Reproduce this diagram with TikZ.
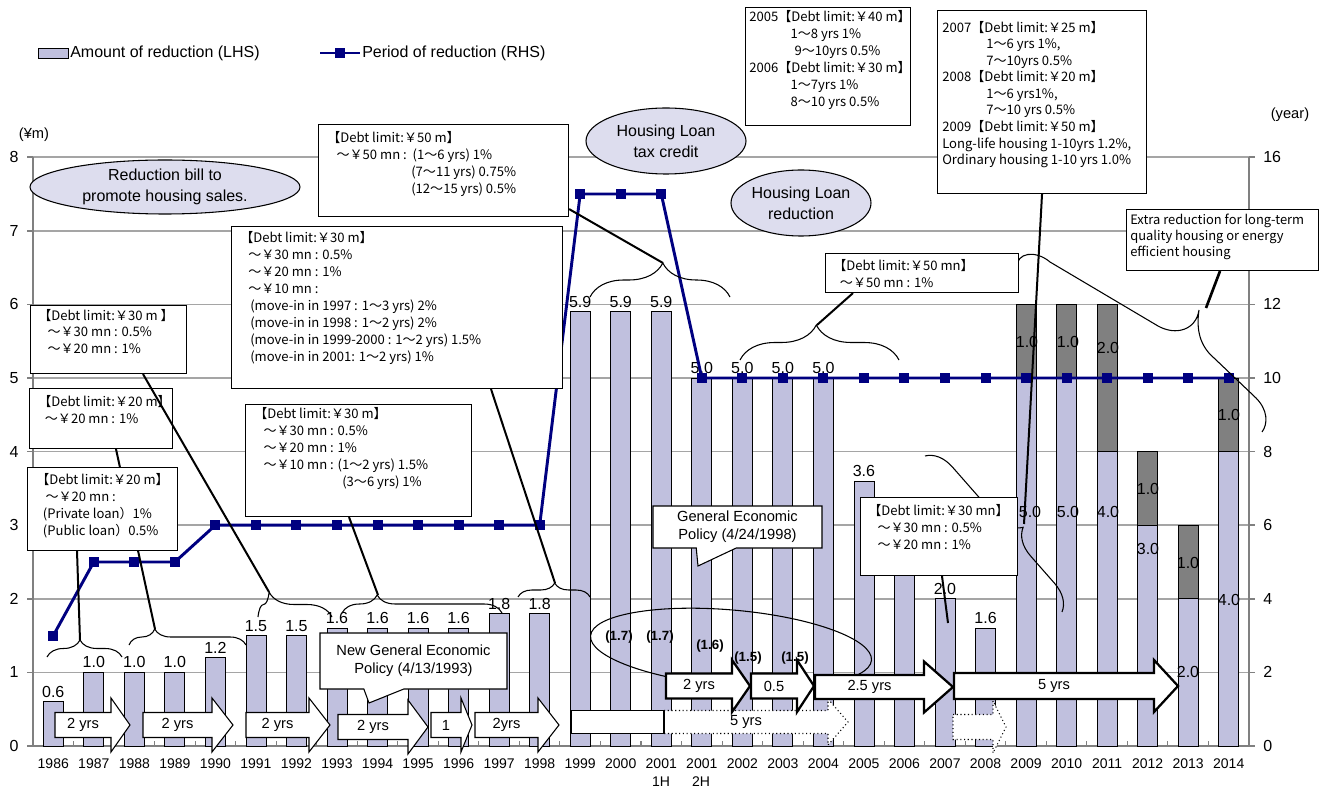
\documentclass[tikz,border=0pt]{standalone}
\usepackage{fontspec}
\setmainfont{Liberation Sans}
\newfontfamily\jpfont{Noto Sans CJK JP}
\usetikzlibrary{shapes.geometric,shapes.callouts,decorations.pathreplacing,calc}

\definecolor{lavbar}{RGB}{192,192,222}
\definecolor{slatebar}{RGB}{128,128,128}
\definecolor{navyline}{RGB}{0,0,128}
\definecolor{bubblefill}{RGB}{221,221,238}
\definecolor{gridgray}{RGB}{165,165,165}
\definecolor{axisgray}{RGB}{128,128,128}

% block arrow: name, style, tail x, head x, tip x, mid y, half shaft, half head, text
\newcommand{\blockarrow}[9]{%
  \draw[#2] (#3,#6-#7) -- (#4,#6-#7) -- (#4,#6-#8) -- (#5,#6) -- (#4,#6+#8)
    -- (#4,#6+#7) -- (#3,#6+#7) -- cycle;
  \node[arrowlabel] (#1) at ({(#3+#4)/2},#6) {#9};
}

\begin{document}
\begin{tikzpicture}[x=0.75pt, y=-0.75pt,
  gridline/.style={draw=gridgray, line width=1.1pt},
  axisline/.style={draw=axisgray, line width=1.1pt},
  lightbar/.style={fill=lavbar, draw=black, line width=0.6pt},
  darkbar/.style={fill=slatebar, draw=black, line width=0.6pt},
  valuelabel/.style={font=\fontsize{12}{14}\selectfont, inner sep=0pt},
  yearlabel/.style={font=\fontsize{10.5}{12}\selectfont, inner sep=0pt},
  ticklabel/.style={font=\fontsize{12}{14}\selectfont, inner sep=0pt},
  periodline/.style={draw=navyline, line width=2.2pt},
  sqmark/.style={rectangle, fill=navyline, inner sep=0pt, minimum size=7.5pt},
  infobox/.style={rectangle, draw=black, fill=white, line width=0.8pt, inner sep=0pt, anchor=north west},
  infotext/.style={font=\jpfont\fontsize{9.8}{12.75}\selectfont, align=left, inner sep=0pt, anchor=north west},
  bubble/.style={ellipse, draw=black, fill=bubblefill, line width=0.8pt, inner sep=0pt,
                 align=center, font=\fontsize{12}{15.5}\selectfont},
  policynote/.style={rectangle callout, draw=black, fill=white, line width=0.8pt, align=center,
                     callout pointer width=30pt, font=\fontsize{11}{13.5}\selectfont},
  bracepath/.style={line width=0.8pt},
  leader/.style={line width=1.5pt},
  solidarrow/.style={draw=black, fill=white, line width=0.8pt},
  thickarrow/.style={draw=black, fill=white, line width=1.7pt},
  dottedarrow/.style={draw=black, fill=white, line width=0.8pt, dotted},
  arrowlabel/.style={font=\fontsize{11}{13}\selectfont, inner sep=0pt},
  estimate/.style={font=\bfseries\fontsize{10}{12}\selectfont, inner sep=0pt}
]
\useasboundingbox (0,0) rectangle (1321,791);

% grid and axes
\foreach \k in {1,...,8}
  \draw[gridline] (33,{746-73.6*\k}) -- (1249,{746-73.6*\k});
\foreach \k in {0,...,8} {
  \draw[axisline] (27,{746-73.6*\k}) -- (33,{746-73.6*\k});
  \draw[axisline] (1249,{746-73.6*\k}) -- (1255,{746-73.6*\k});
}
\draw[axisline] (33,157) -- (33,746);
\draw[axisline] (1249,157) -- (1249,746);
\draw[axisline] (33,746) -- (1249,746);
\foreach \i in {0,...,30}
  \draw[axisline, line width=0.8pt] ({33+40.533*\i},746) -- ({33+40.533*\i},741);

% bars
\foreach \i/\v in {0/0.6,1/1.0,2/1.0,3/1.0,4/1.2,5/1.5,6/1.5,7/1.6,8/1.6,9/1.6,10/1.6,
                   11/1.8,12/1.8,13/5.9,14/5.9,15/5.9,16/5.0,17/5.0,18/5.0,19/5.0,
                   20/3.6,21/2.6,22/2.0,23/1.6} {
  \pgfmathsetmacro{\cx}{33+40.533*(\i+0.5)}
  \draw[lightbar] (\cx-10,746) rectangle (\cx+10,{746-73.6*\v});
}
\foreach \i/\lo/\hi in {24/5/6,25/5/6,26/4/6,27/3/4,28/2/3,29/4/5} {
  \pgfmathsetmacro{\cx}{33+40.533*(\i+0.5)}
  \draw[lightbar] (\cx-10,746) rectangle (\cx+10,{746-73.6*\lo});
  \draw[darkbar] (\cx-10,{746-73.6*\lo}) rectangle (\cx+10,{746-73.6*\hi});
}

% value labels
\foreach \i/\v in {0/0.6,1/1.0,2/1.0,3/1.0,4/1.2,5/1.5,6/1.5,7/1.6,8/1.6,9/1.6,10/1.6,
                   11/1.8,12/1.8,13/5.9,14/5.9,15/5.9,16/5.0,17/5.0,18/5.0,19/5.0,
                   20/3.6,22/2.0,23/1.6} {
  \pgfmathsetmacro{\cx}{33+40.533*(\i+0.5)}
  \node[valuelabel] (val\i) at (\cx,{746-73.6*\v-10}) {\v};
}
\node[valuelabel] (lo24) at (1030,512) {5.0};
\node[valuelabel] (hi24) at (1027,342) {1.0};
\node[valuelabel] (lo25) at (1068,512) {5.0};
\node[valuelabel] (hi25) at (1068,342) {1.0};
\node[valuelabel] (lo26) at (1108,512) {4.0};
\node[valuelabel] (hi26) at (1108,348) {2.0};
\node[valuelabel] (lo27) at (1148,549) {3.0};
\node[valuelabel] (hi27) at (1148,489) {1.0};
\node[valuelabel] (lo28) at (1188,672) {2.0};
\node[valuelabel] (hi28) at (1188,563) {1.0};
\node[valuelabel] (lo29) at (1229,600) {4.0};
\node[valuelabel] (hi29) at (1229,415) {1.0};

% period of reduction
\foreach \i/\r in {0/3,1/5,2/5,3/5,4/6,5/6,6/6,7/6,8/6,9/6,10/6,11/6,12/6,13/15,14/15,15/15,
                   16/10,17/10,18/10,19/10,20/10,21/10,22/10,23/10,24/10,25/10,26/10,27/10,28/10,29/10}
  \coordinate (p\i) at ({33+40.533*(\i+0.5)},{746-36.8*\r});
\draw[periodline] (p0) \foreach \i in {1,...,29} {-- (p\i)};
\foreach \i in {0,...,29}
  \node[sqmark] (m\i) at (p\i) {};

% estimated amounts
\node[draw=black, line width=0.8pt, ellipse, minimum width=211.5pt, minimum height=57pt,
      rotate=-5] (oval) at (731,648) {};
\node[estimate] (est1) at (619,637) {(1.7)};
\node[estimate] (est2) at (660,637) {(1.7)};
\node[estimate] (est3) at (710,646) {(1.6)};
\node[estimate] (est4) at (748,658) {(1.5)};
\node[estimate] (est5) at (795,658) {(1.5)};

% block arrows
\blockarrow{ar1}{solidarrow}{55}{111}{130}{725}{12.5}{27}{2 yrs}
\blockarrow{ar2}{solidarrow}{143}{212}{233}{725}{12.5}{27}{2 yrs}
\blockarrow{ar3}{solidarrow}{246}{309}{330}{725}{12.5}{27}{2 yrs}
\blockarrow{ar4}{solidarrow}{338}{408}{428}{727}{12.5}{27}{2 yrs}
\blockarrow{ar5}{solidarrow}{431}{461}{472}{725}{12.5}{27}{1}
\blockarrow{ar6}{solidarrow}{475}{538}{559}{725}{12.5}{27}{2yrs}
\blockarrow{ar7}{dottedarrow}{664}{828}{848}{722}{11.5}{23}{5 yrs}
\draw[solidarrow] (571,710.5) rectangle (664,733.5);
\blockarrow{ar8}{dottedarrow}{953}{993}{1006}{727}{12.5}{26}{}
\blockarrow{ar9}{thickarrow}{666}{732}{750}{686}{12.5}{26}{2 yrs}
\blockarrow{ar10}{thickarrow}{751}{797}{814}{686}{12.5}{26}{0.5}
\blockarrow{ar11}{thickarrow}{815}{924}{953}{687}{12}{25.5}{2.5 yrs}
\blockarrow{ar12}{thickarrow}{954}{1154}{1178}{686}{13}{26}{5 yrs}

% braces
\draw[bracepath, decorate, decoration={brace, amplitude=12.75pt, aspect=0.44}] (47,657) -- (122,657);
\draw[bracepath, decorate, decoration={brace, amplitude=12pt, aspect=0.22}] (129,645) -- (246,645);
\draw[bracepath, decorate, decoration={brace, amplitude=18.75pt, aspect=0.15}] (258,617) -- (332,617);
\draw[bracepath, decorate, decoration={brace, amplitude=13.5pt, aspect=0.22}] (342,613) -- (502,613);
\draw[bracepath, decorate, decoration={brace, amplitude=10.5pt, aspect=0.51}] (518,597) -- (590,597);
\draw[bracepath, decorate, decoration={brace, amplitude=25.5pt, aspect=0.52}] (590,297) -- (730,297);
\draw[bracepath, decorate, decoration={brace, amplitude=26.25pt, aspect=0.48}] (740,360) -- (899,360);
\draw[bracepath, decorate, decoration={brace, amplitude=20pt, aspect=0.57}] (925,456) -- (1062,612);
\draw[bracepath] (1017,268) .. controls (1016,252) and (1036,250) .. (1050,262) -- (1158,326)
  .. controls (1176,336) and (1196,330) .. (1199,310)
  .. controls (1196,330) and (1200,346) .. (1214,358) -- (1256,398)
  .. controls (1268,410) and (1268,424) .. (1262,432);

\coordinate (tip1) at (80,640);
\coordinate (tip2) at (155,629);
\coordinate (tip3) at (269,592);
\coordinate (tip4) at (378,595);
\coordinate (tip5) at (555,583);
\coordinate (tip6) at (663,263);
\coordinate (tip7) at (817,325);
\coordinate (tip8) at (1206,308);
\coordinate (tip9) at (1024,524);
\coordinate (p2007) at (948,623);

% boxes
\node[infobox, minimum width=123.75pt, minimum height=88.5pt] (BoxA) at (745,7) {};
\node[infotext] (BoxAtext) at (749,10) {2005【Debt limit:￥40 m】\\
  \hspace*{31pt}1～8 yrs 1\%\\
  \hspace*{34pt}9～10yrs 0.5\%\\
  2006【Debt limit:￥30 m】\\
  \hspace*{31pt}1～7yrs 1\%\\
  \hspace*{31pt}8～10 yrs 0.5\%};

\node[infobox, minimum width=156.75pt, minimum height=137.25pt] (BoxB) at (937,10) {};
\node[infotext, font=\jpfont\fontsize{9.8}{12.4}\selectfont] (BoxBtext) at (942,21) {2007【Debt limit:￥25 m】\\
  \hspace*{33pt}1～6 yrs 1\%,\\
  \hspace*{33pt}7～10yrs 0.5\%\\
  2008【Debt limit:￥20 m】\\
  \hspace*{33pt}1～6 yrs1\%,\\
  \hspace*{33pt}7～10 yrs 0.5\%\\
  2009【Debt limit:￥50 m】\\
  Long-life housing 1-10yrs 1.2\%,\\
  Ordinary housing 1-10 yrs 1.0\%};

\node[infobox, minimum width=187.5pt, minimum height=69pt] (B1) at (318,124) {};
\node[infotext] (B1text) at (327,131) {【Debt limit:￥50 m】\\
  \hspace*{7pt}～￥50 mn :\ \ (1～6 yrs) 1\%\\
  \hspace*{63pt}(7～11 yrs) 0.75\%\\
  \hspace*{63pt}(12～15 yrs) 0.5\%};

\node[infobox, minimum width=248.25pt, minimum height=121.5pt] (B2) at (231,226) {};
\node[infotext] (B2text) at (240,231) {【Debt limit:￥30 m】\\
  \hspace*{6pt}～￥30 mn : 0.5\%\\
  \hspace*{6pt}～￥20 mn : 1\%\\
  \hspace*{6pt}～￥10 mn :\\
  \hspace*{7.5pt}(move-in in 1997 : 1～3 yrs) 2\%\\
  \hspace*{7.5pt}(move-in in 1998 : 1～2 yrs) 2\%\\
  \hspace*{7.5pt}(move-in in 1999-2000 : 1～2 yrs) 1.5\%\\
  \hspace*{7.5pt}(move-in in 2001: 1～2 yrs) 1\%};

\node[infobox, minimum width=117pt, minimum height=51pt] (B3) at (30,305) {};
\node[infotext, font=\jpfont\fontsize{9.8}{12.4}\selectfont] (B3text) at (38,309) {【Debt limit:￥30 m 】\\
  \hspace*{7pt}～￥30 mn : 0.5\%\\
  \hspace*{7pt}～￥20 mn : 1\%};

\node[infobox, minimum width=107.25pt, minimum height=45pt] (B4) at (29,388) {};
\node[infotext] (B4text) at (38,395) {【Debt limit:￥20 m】\\
  \hspace*{5pt}～￥20 mn : 1\%};

\node[infobox, minimum width=169.5pt, minimum height=84pt] (B6) at (245,404) {};
\node[infotext] (B6text) at (254,407) {【Debt limit:￥30 m】\\
  \hspace*{7pt}～￥30 mn : 0.5\%\\
  \hspace*{7pt}～￥20 mn : 1\%\\
  \hspace*{7pt}～￥10 mn : (1～2 yrs) 1.5\%\\
  \hspace*{66pt}(3～6 yrs) 1\%};

\node[infobox, minimum width=144.75pt, minimum height=29.25pt] (B7) at (825,253) {};
\node[infotext] (B7text) at (833,259) {【Debt limit:￥50 mn】\\
  \hspace*{5pt}～￥50 mn : 1\%};

\node[infobox, minimum width=117.75pt, minimum height=58.5pt] (B8) at (860,497) {};
\node[infotext] (B8text) at (868,504) {【Debt limit:￥30 mn】\\
  \hspace*{7pt}～￥30 mn : 0.5\%\\
  \hspace*{7pt}～￥20 mn : 1\%};

\node[infobox, minimum width=144pt, minimum height=45.75pt] (B9) at (1126,209) {};
\node[infotext, font=\jpfont\fontsize{9.7}{12}\selectfont] (B9text) at (1130,214) {Extra reduction for long-term\\
  quality housing or energy\\
  efficient housing};

% leaders from the boxes
\draw[leader] ($(B4.south west)+(87,0)$) -- (tip2);
\draw[leader] ($(B6.south west)+(104,0)$) -- (tip4);
\draw[leader] ($(B2.south west)+(260,0)$) -- (tip5);
\draw[leader] ($(B1.south east)+(0,-8)$) -- (tip6);
\draw[leader] ($(B7.south west)+(28,0)$) -- (tip7);
\draw[leader] (BoxB.south) -- (tip9);
\draw[leader] ($(B8.south west)+(82,0)$) -- (p2007);
\draw[leader, line width=2pt] ($(B9.south west)+(94,0)$) -- (tip8);
\draw[leader] ($(B3.south west)+(113,0)$) -- (tip3);

\node[infobox, minimum width=112.5pt, minimum height=62.25pt] (B5) at (27,467) {};
\node[infotext] (B5text) at (36,473) {【Debt limit:￥20 m】\\
  \hspace*{7pt}～￥20 mn :\\
  \hspace*{5pt}(Private loan）1\%\\
  \hspace*{5pt}(Public loan）0.5\%};
\draw[leader] ($(B5.south west)+(50,0)$) -- (tip1);

% bubbles and notes
\node[bubble, minimum width=202.5pt, minimum height=40.5pt] (bill) at (165,187)
  {Reduction bill to\\promote housing sales.};
\node[bubble, minimum width=120pt, minimum height=49.5pt] (credit) at (666,141)
  {Housing Loan\\tax credit};
\node[bubble, minimum width=105pt, minimum height=49.5pt] (reduct) at (801,203)
  {Housing Loan\\reduction};
\node[policynote, minimum width=140.25pt, minimum height=42pt,
      callout absolute pointer={(369,703)}] (plan93) at (413.5,661)
  {New General Economic\\Policy (4/13/1993)};
\node[policynote, minimum width=126.75pt, minimum height=31.5pt,
      callout absolute pointer={(698,566)}] (plan98) at (737.5,527)
  {General Economic\\Policy (4/24/1998)};

% legend
\node[lightbar, rectangle, minimum width=22.5pt, minimum height=7.5pt, inner sep=0pt] (legbar) at (53,53) {};
\node[anchor=west, inner sep=0pt, font=\fontsize{12}{14}\selectfont] (legbartext) at (70,53) {Amount of reduction (LHS)};
\coordinate (legl) at (320,53);
\coordinate (legr) at (360,53);
\draw[periodline] (legl) -- (legr);
\node[sqmark] (legmark) at (340,53) {};
\node[anchor=west, inner sep=0pt, font=\fontsize{12}{14}\selectfont] (leglinetext) at (362,53) {Period of reduction (RHS)};

% axis labels
\foreach \k in {0,...,8}
  \node[ticklabel] (lt\k) at (14,{746-73.6*\k}) {\k};
\foreach \k/\t in {0/0,1/2,2/4,3/6,4/8,5/10,6/12,8/16}
  \node[ticklabel, anchor=west] (rt\k) at (1263,{746-73.6*\k}) {\t};
\node[font=\fontsize{11}{13}\selectfont, inner sep=0pt] (yen) at (34,135) {(¥m)};
\node[font=\fontsize{11}{13}\selectfont, inner sep=0pt] (yr) at (1290,115) {(year)};
\foreach \i/\t in {0/1986,1/1987,2/1988,3/1989,4/1990,5/1991,6/1992,7/1993,8/1994,9/1995,
                   10/1996,11/1997,12/1998,13/1999,14/2000,15/2001,16/2001,17/2002,18/2003,
                   19/2004,20/2005,21/2006,22/2007,23/2008,24/2009,25/2010,26/2011,27/2012,
                   28/2013,29/2014}
  \node[yearlabel] (yl\i) at ({33+40.533*(\i+0.5)},764) {\t};
\node[yearlabel] (half1) at (661,782) {1H};
\node[yearlabel] (half2) at (701,782) {2H};
\end{tikzpicture}
\end{document}
